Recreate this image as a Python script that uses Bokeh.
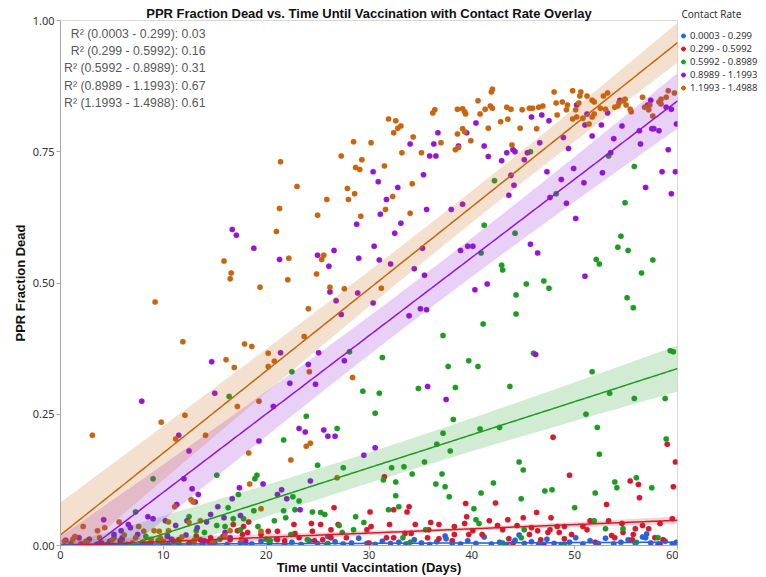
import numpy as np
from bokeh.plotting import figure
from bokeh.layouts import row
from bokeh.models import Range1d, FixedTicker, NumeralTickFormatter, Legend, LegendItem, Label
from bokeh.embed import file_html
from bokeh.resources import INLINE

# ---------------- data ----------------
group_names = ["0.0003 - 0.299", "0.299 - 0.5992", "0.5992 - 0.8989", "0.8989 - 1.1993", "1.1993 - 1.4988"]
r2_values = ["0.03", "0.16", "0.31", "0.67", "0.61"]
colors = ["#2b63d6", "#d31a2e", "#1f9b25", "#9216d6", "#c8650f"]

blue_x = [3.5, 6.0, 8.5, 10.5, 12.5, 13.8, 15.0, 16.2, 17.5, 18.6, 19.5, 20.3, 21.0, 21.8, 22.5, 23.4, 24.2, 25.0, 25.9,
          26.0, 26.7, 27.5, 28.3, 29.0, 29.8, 30.6, 31.3, 32.1, 32.9, 33.6, 34.4, 35.1, 35.9, 36.6, 37.4, 37.5, 38.1,
          38.9, 39.6, 40.4, 41.2, 41.9, 42.7, 43.4, 44.2, 44.6, 45.1, 45.8, 46.5, 47.3, 48.0, 48.7, 49.5, 50.1, 50.8,
          51.5, 52.3, 53.0, 53.8, 54.5, 55.2, 55.9, 56.6, 56.9, 57.0, 57.4, 58.1, 58.8, 59.5, 59.9]
blue_y = [0.002, 0.001, 0.003, 0.002, 0.004, 0.003, 0.006, 0.002, 0.005, 0.003, 0.008, 0.004, 0.012, 0.003, 0.006, 0.002,
          0.009, 0.004, 0.002, 0.017, 0.007, 0.003, 0.005, 0.014, 0.004, 0.002, 0.008, 0.004, 0.006, 0.003, 0.011, 0.005,
          0.002, 0.007, 0.018, 0.013, 0.004, 0.003, 0.009, 0.004, 0.016, 0.003, 0.006, 0.002, 0.010, 0.020, 0.004, 0.007,
          0.003, 0.012, 0.004, 0.002, 0.006, 0.015, 0.003, 0.009, 0.004, 0.014, 0.003, 0.006, 0.011, 0.004, 0.016, 0.015,
          0.022, 0.005, 0.002, 0.008, 0.003, 0.006]

red_x = [31.5, 26.6, 30.1, 32.4, 33.9, 33.7, 24.4, 26.3, 27.0, 32.0, 30.2, 29.8, 34.5, 36.0, 36.8, 38.3, 39.4, 39.5, 39.3,
         38.3, 35.8, 34.1, 33.5, 32.4, 31.7, 22.8, 20.2, 21.1, 21.8, 23.2, 24.7, 25.5, 26.3, 27.8, 36.8, 35.7, 38.1, 39.7,
         17.2, 17.8, 17.7, 18.2, 19.5, 14.6, 13.6, 15.8, 16.5, 11.5, 9.7, 5.8,
         18.3, 16.8, 21.1, 22.7, 24.5, 25.3,
         47.9, 49.5, 53.1, 55.4, 56.2, 56.3, 59.0, 59.8, 59.6, 42.3, 46.3, 47.7, 45.0, 43.5, 41.7, 42.5, 43.0, 44.4, 45.8,
         46.4, 47.6, 48.3, 49.0, 48.5, 47.4, 45.6, 41.0, 40.1, 50.8, 51.2, 51.5, 53.3, 49.7, 49.0, 53.6, 53.9, 54.7, 54.6,
         55.7, 55.9, 56.6, 57.2, 58.3, 59.5, 57.8, 58.6, 55.6, 46.7, 43.6,
         2.0, 4.0, 6.5, 8.0, 10.0, 11.0, 12.5, 13.2, 14.5, 30.0, 44.0, 52.0]
red_y = [0.131, 0.072, 0.064, 0.068, 0.074, 0.064, 0.042, 0.030, 0.040, 0.040, 0.036, 0.030, 0.040, 0.044, 0.040, 0.036,
         0.080, 0.055, 0.042, 0.021, 0.030, 0.023, 0.023, 0.015, 0.015, 0.023, 0.027, 0.011, 0.009, 0.015, 0.009, 0.011,
         0.015, 0.015, 0.013, 0.015, 0.009, 0.021,
         0.028, 0.036, 0.021, 0.025, 0.021, 0.015, 0.011, 0.017, 0.011, 0.011, 0.009, 0.009,
         0.045, 0.040, 0.027, 0.040, 0.027, 0.040,
         0.206, 0.134, 0.078, 0.123, 0.116, 0.091, 0.193, 0.159, 0.112, 0.081, 0.063, 0.053, 0.053, 0.049, 0.047, 0.038,
         0.030, 0.038, 0.034, 0.028, 0.030, 0.036, 0.036, 0.025, 0.025, 0.021, 0.021, 0.028, 0.036, 0.030, 0.047, 0.047,
         0.021, 0.013, 0.019, 0.015, 0.025, 0.042, 0.021, 0.032, 0.038, 0.032, 0.042, 0.051, 0.015, 0.011, 0.011, 0.011,
         0.013,
         0.003, 0.005, 0.002, 0.006, 0.004, 0.008, 0.003, 0.018, 0.006, 0.005, 0.004, 0.006]

green_x = [45.7, 42.2, 48.2, 53.3, 55.8, 54.9, 44.2, 41.2, 40.9, 42.9, 43.0, 45.3, 47.0, 47.5, 44.3, 44.3, 41.1, 52.1, 52.4,
           54.5, 54.2, 55.2, 57.6, 56.5, 55.1, 55.7, 37.2,
           40.6, 43.7, 46.0, 51.7, 53.4, 55.8, 58.8, 59.3, 59.6, 51.1, 40.8, 42.7, 52.2, 58.9, 52.4, 44.6, 45.0, 42.1,
           40.9, 44.8, 47.1, 47.8, 53.9, 54.1, 56.0, 57.5, 52.0, 50.0, 40.2, 40.4, 40.7, 45.1, 44.8, 51.9, 53.0, 54.7, 58.1,
           28.1, 31.3, 39.7, 37.7, 22.5, 29.4, 31.0, 34.8, 38.4, 23.9, 30.6, 38.2, 26.9, 21.7, 37.2, 36.6, 37.9, 25.0,
           27.5, 32.2, 33.4, 35.4, 34.2, 31.4, 32.6, 37.1, 36.5, 37.4, 37.8, 32.6, 22.6, 23.2, 21.7, 22.8, 24.5, 25.3,
           25.7, 21.9, 20.8, 28.7, 29.5, 31.9, 32.9, 27.1, 28.5, 27.4, 22.4, 24.0, 20.4, 33.3, 35.5,
           16.4, 9.0, 15.2, 19.1, 18.9, 17.3, 18.8, 16.3, 16.8, 17.8, 12.5, 7.3, 15.2, 16.0, 13.2, 14.0, 10.4, 8.3, 17.5,
           19.2, 5.2,
           1.0, 2.5, 4.5, 6.0, 8.0, 9.5, 11.5, 13.0, 15.5, 18.0, 20.0, 26.0, 34.0, 43.0, 49.0, 56.0]
green_y = [0.750, 0.695, 0.670, 0.742, 0.722, 0.653, 0.595, 0.610, 0.557, 0.534, 0.525, 0.498, 0.504, 0.490, 0.477, 0.441,
           0.422, 0.545, 0.536, 0.589, 0.568, 0.562, 0.544, 0.519, 0.472, 0.453, 0.400,
           0.341, 0.303, 0.366, 0.331, 0.290, 0.280, 0.280, 0.371, 0.369, 0.250, 0.222, 0.225, 0.225, 0.203, 0.174, 0.159,
           0.144, 0.119, 0.100, 0.089, 0.104, 0.106, 0.121, 0.110, 0.129, 0.110, 0.100, 0.072, 0.070, 0.049, 0.042, 0.030,
           0.015, 0.047, 0.032, 0.032, 0.015,
           0.369, 0.358, 0.352, 0.341, 0.331, 0.294, 0.290, 0.299, 0.301, 0.246, 0.252, 0.240, 0.223, 0.201, 0.214, 0.193,
           0.180, 0.153, 0.148, 0.148, 0.150, 0.159, 0.136, 0.125, 0.121, 0.136, 0.117, 0.112, 0.093, 0.095, 0.093, 0.085,
           0.066, 0.068, 0.064, 0.063, 0.059, 0.053, 0.047, 0.055, 0.044, 0.068, 0.074, 0.038, 0.030, 0.025, 0.021, 0.011,
           0.009, 0.015, 0.030,
           0.284, 0.127, 0.134, 0.134, 0.127, 0.097, 0.066, 0.072, 0.051, 0.051, 0.055, 0.064, 0.038, 0.036, 0.028, 0.025,
           0.019, 0.017, 0.030, 0.036, 0.015,
           0.004, 0.008, 0.002, 0.011, 0.005, 0.009, 0.004, 0.007, 0.012, 0.005, 0.012, 0.004, 0.006, 0.005, 0.003, 0.006]

purple_x = [16.7, 17.1, 18.8, 21.3, 25.0, 26.6, 26.1, 26.2, 26.8, 28.8, 29.0,
            36.7, 34.0, 36.3, 35.9, 36.5, 38.7, 39.5, 40.4, 35.3, 32.8, 31.7, 31.1, 33.1, 32.5, 35.6, 38.0, 39.1, 30.5,
            31.0, 32.1, 35.2, 34.4, 35.4, 38.9, 39.6, 40.1, 40.3, 30.4, 35.0, 35.6, 33.9, 30.4, 30.9, 27.3, 28.9,
            45.8, 46.8, 47.5, 41.2, 41.6, 42.9, 43.4, 44.0, 44.2, 45.4, 45.1, 46.6, 43.8, 44.1, 43.6, 47.3, 48.9, 49.4,
            50.2, 51.2, 51.0, 51.7, 52.6, 53.2, 54.4, 53.8, 54.6, 53.5, 56.3, 56.4, 57.4, 57.1, 57.5, 57.7, 58.2, 58.9,
            59.4, 59.9, 59.1, 58.5, 59.8, 59.4, 56.9, 52.7, 50.9, 49.9, 48.7, 49.2, 47.6, 50.1, 45.7, 46.4, 41.5, 51.0,
            14.7, 7.9, 15.0, 11.5, 12.5, 19.3, 12.0, 12.8, 13.4, 13.1, 11.3, 19.7, 17.4, 16.7, 15.3, 14.6, 8.5, 9.0, 10.2,
            4.2, 6.6, 6.8, 5.9, 12.3, 11.2, 13.3, 14.2, 15.9, 17.5, 1.8, 5.2, 7.5, 10.4, 16.0,
            21.4, 25.1, 24.1, 22.3, 24.8, 27.6, 20.7, 23.2, 23.8, 25.6, 26.0, 26.7, 30.6, 29.5, 35.7, 37.5, 24.3, 21.5,
            21.1, 22.0, 23.3, 46.2,
            0.5, 2.8, 4.8, 6.0, 8.8, 10.8, 12.2, 14.0, 16.5, 18.0, 47.0, 58.3]
purple_y = [0.602, 0.591, 0.566, 0.545, 0.553, 0.562, 0.532, 0.483, 0.466, 0.612, 0.547,
            0.786, 0.765, 0.765, 0.742, 0.742, 0.761, 0.786, 0.805, 0.706, 0.682, 0.659, 0.631, 0.614, 0.595, 0.640,
            0.640, 0.650, 0.570, 0.544, 0.536, 0.566, 0.527, 0.515, 0.562, 0.570, 0.570, 0.487, 0.462, 0.451, 0.449,
            0.4375, 0.712, 0.693, 0.440, 0.481,
            0.816, 0.820, 0.809, 0.761, 0.741, 0.733, 0.748, 0.754, 0.750, 0.748, 0.735, 0.767, 0.705, 0.686, 0.667,
            0.712, 0.777, 0.756, 0.839, 0.822, 0.801, 0.780, 0.801, 0.824, 0.848, 0.775, 0.799, 0.748, 0.790, 0.765,
            0.848, 0.839, 0.794, 0.794, 0.790, 0.835, 0.831, 0.803, 0.754, 0.712, 0.712, 0.670, 0.682, 0.710, 0.691,
            0.718, 0.697, 0.652, 0.663, 0.623, 0.574, 0.557, 0.498, 0.513,
            0.350, 0.275, 0.290, 0.210, 0.180, 0.199, 0.127, 0.108, 0.097, 0.083, 0.078, 0.117, 0.110, 0.089, 0.074,
            0.059, 0.055, 0.051, 0.047, 0.049, 0.040, 0.034, 0.028, 0.047, 0.038, 0.034, 0.045, 0.053, 0.057, 0.015,
            0.021, 0.021, 0.017, 0.025,
            0.367, 0.367, 0.345, 0.309, 0.307, 0.352, 0.265, 0.223, 0.216, 0.220, 0.208, 0.208, 0.186, 0.172, 0.303,
            0.278, 0.123, 0.106, 0.097, 0.089, 0.068, 0.364,
            0.010, 0.012, 0.008, 0.015, 0.006, 0.012, 0.020, 0.009, 0.015, 0.008, 0.002, 0.003]

orange_x = [28.5, 27.3, 21.4, 28.7, 23.0, 27.9, 28.6, 25.9, 28.0, 21.3, 25.0, 21.0, 15.9, 22.2, 25.6, 25.4, 16.6, 16.5,
            24.9, 22.1, 19.4, 26.2, 27.6, 9.2,
            31.9, 32.6, 33.1, 32.8, 32.4, 34.3, 36.2, 36.4, 38.6, 39.1, 39.3, 39.4, 39.1, 39.3, 38.6, 39.9, 37.0, 38.7,
            38.4, 33.2, 35.1, 31.5, 29.3, 34.2, 32.3, 31.6, 34.0, 29.2, 31.2, 24.1, 23.7, 30.2, 29.1,
            42.0, 41.9, 40.6, 41.8, 42.0, 41.3, 40.8, 41.6, 43.5, 43.4, 43.8, 42.8, 44.7, 44.9, 45.6, 45.9, 46.5, 46.9,
            46.3, 43.9, 48.0, 48.2, 48.3, 48.8, 49.3, 49.2, 49.8, 50.6, 50.5, 50.4, 50.1, 49.8, 50.2, 50.8, 51.2, 51.7,
            51.9, 51.9, 51.7, 51.4, 52.5, 52.8, 53.2, 53.0, 53.9, 54.2, 54.3, 54.7, 54.9, 55.0, 55.4, 55.5, 56.6, 56.8,
            57.2, 57.3, 57.6, 58.2, 58.4, 58.4, 58.9, 59.1, 59.7,
            11.9, 17.9, 18.6, 16.1, 16.9, 20.2, 20.2, 3.1, 9.8, 12.1, 11.2, 14.1, 17.2, 19.3, 18.3, 18.4, 19.5, 12.7,
            11.1, 2.2, 3.6, 5.7, 4.3, 7.6, 9.6, 10.5, 12.5, 10.5, 1.4, 8.1, 7.3, 9.7, 13.6, 19.5, 12.9, 9.1, 16.5,
            20.8, 24.2, 28.4, 23.9, 24.3, 22.4, 26.9,
            0.4, 1.2, 2.6, 3.8, 5.0, 6.2, 7.0, 8.8, 10.0, 11.8, 13.0, 14.8, 16.0, 17.6]
orange_y = [0.769, 0.742, 0.731, 0.720, 0.684, 0.680, 0.670, 0.659, 0.659, 0.642, 0.629, 0.598, 0.542, 0.547, 0.553,
            0.545, 0.519, 0.508, 0.517, 0.506, 0.492, 0.492, 0.489, 0.464,
            0.8125, 0.809, 0.799, 0.795, 0.786, 0.778, 0.824, 0.830, 0.831, 0.832, 0.826, 0.822, 0.794, 0.788, 0.784,
            0.771, 0.767, 0.758, 0.754, 0.748, 0.748, 0.723, 0.735, 0.689, 0.665, 0.640, 0.633, 0.627, 0.490, 0.451,
            0.398, 0.767, 0.716,
            0.869, 0.864, 0.847, 0.837, 0.833, 0.831, 0.822, 0.795, 0.812, 0.835, 0.831, 0.807, 0.795, 0.830, 0.833,
            0.833, 0.835, 0.837, 0.794, 0.763, 0.864, 0.843, 0.820, 0.845, 0.839, 0.830, 0.866, 0.864, 0.856, 0.843,
            0.830, 0.8125, 0.816, 0.814, 0.856, 0.848, 0.845, 0.822, 0.816, 0.803, 0.833, 0.856, 0.862, 0.831, 0.835,
            0.837, 0.843, 0.847, 0.850, 0.839, 0.831, 0.826, 0.854, 0.835, 0.830, 0.839, 0.818, 0.845, 0.850, 0.841,
            0.854, 0.866, 0.862,
            0.388, 0.384, 0.379, 0.354, 0.339, 0.366, 0.341, 0.210, 0.235, 0.248, 0.203, 0.210, 0.265, 0.275, 0.176,
            0.117, 0.070, 0.087, 0.074, 0.036, 0.028, 0.045, 0.034, 0.036, 0.027, 0.045, 0.044, 0.028, 0.017, 0.027,
            0.015, 0.015, 0.047, 0.027, 0.083, 0.028, 0.028,
            0.351, 0.331, 0.320, 0.189, 0.195, 0.163, 0.129,
            0.008, 0.012, 0.006, 0.015, 0.010, 0.020, 0.005, 0.012, 0.008, 0.016, 0.010, 0.006, 0.018, 0.012]

# linear fits per group and confidence-band shape
fit_intercept = [0.002, -0.0006, -0.041, -0.0477, 0.020]
fit_slope = [0.00007, 0.00081, 0.0063, 0.01491, 0.01563]
band_center_x = [35.0, 38.0, 28.0, 35.0, 42.0]
band_min_half = [0.0015, 0.0035, 0.029, 0.036, 0.030]
band_growth = [0.00003, 0.00028, 0.00103, 0.00155, 0.0013]

xs_all = [blue_x, red_x, green_x, purple_x, orange_x]
ys_all = [blue_y, red_y, green_y, purple_y, orange_y]

title = "PPR Fraction Dead vs. Time Until Vaccination with Contact Rate Overlay"
x_label = "Time until Vaccintation (Days)"
y_label = "PPR Fraction Dead"
legend_title = "Contact Rate"
x_ticks = [0, 10, 20, 30, 40, 50, 60]
y_ticks = [0.0, 0.25, 0.5, 0.75, 1.0]

# ---------------- main figure ----------------
TOTAL_H = 577
p = figure(width=678, height=TOTAL_H, output_backend="svg", toolbar_location=None,
           x_range=Range1d(0, 60), y_range=Range1d(0, 1.0),
           min_border_left=60, min_border_right=1, min_border_top=20, min_border_bottom=29,
           title=title)
p.title.text_font = "Liberation Sans"
p.title.text_font_size = "13px"
p.title.text_font_style = "bold"
p.title.align = "center"
p.title.standoff = 0
p.title.text_color = "#111111"

p.grid.visible = False
p.outline_line_color = "#d9d9d9"
p.background_fill_color = "white"

for ax in (p.xaxis, p.yaxis):
    ax.axis_line_color = "#a8a8a8"
    ax.major_tick_line_color = "#a8a8a8"
    ax.minor_tick_line_color = None
    ax.major_tick_in = 0
    ax.major_tick_out = 4
    ax.major_label_standoff = 2
    ax.major_label_text_font = "Noto Sans"
    ax.major_label_text_font_size = "11px"
    ax.major_label_text_color = "#333333"
    ax.axis_label_text_font = "Liberation Sans"
    ax.axis_label_text_font_size = "13px"
    ax.axis_label_text_font_style = "bold"
    ax.axis_label_text_color = "#111111"
    ax.axis_label_standoff = 2

p.xaxis.axis_label = x_label
p.yaxis.axis_label = y_label
p.xaxis.ticker = FixedTicker(ticks=x_ticks)
p.yaxis.ticker = FixedTicker(ticks=y_ticks)
p.yaxis.formatter = NumeralTickFormatter(format="0.00")
p.xaxis.major_label_standoff = 1
p.xaxis.axis_label_standoff = -2

for xs, ys, c in zip(xs_all, ys_all, colors):
    p.scatter(xs, ys, size=5.5, fill_color=c, line_color=c, line_alpha=0.5, line_width=0.5)

grid_x = np.linspace(0, 60, 241)
for i, c in enumerate(colors):
    yfit = fit_intercept[i] + fit_slope[i] * grid_x
    half = np.sqrt(band_min_half[i] ** 2 + (band_growth[i] * (grid_x - band_center_x[i])) ** 2)
    p.varea(x=grid_x, y1=yfit - half, y2=yfit + half, fill_color=c, fill_alpha=0.2)
for i, c in enumerate(colors):
    yfit = fit_intercept[i] + fit_slope[i] * grid_x
    p.line(grid_x, yfit, line_color=c, line_width=1.5)

# R-squared annotation block
for i, (g, r2) in enumerate(zip(group_names, r2_values)):
    lab = Label(x=14.1, y=0.975 - i * 0.0331, text=f"R\u00b2 ({g}): {r2}",
                text_align="right", text_baseline="middle",
                text_font="Liberation Sans", text_font_size="12.3px", text_color="#595959")
    p.add_layout(lab)

# ---------------- legend panel (separate narrow figure on the right) ----------------
LEG_W = 88
pl = figure(width=LEG_W, height=TOTAL_H, output_backend="svg", toolbar_location=None,
            x_range=Range1d(0, 1), y_range=Range1d(0, 1), min_border=0,
            x_axis_location=None, y_axis_location=None, outline_line_color=None,
            title=legend_title)
# the legend heading is this small figure's own title, so it sits above the frame
pl.title.text_font = "Noto Sans"
pl.title.text_font_size = "10px"
pl.title.text_font_style = "normal"
pl.title.text_color = "#333333"
pl.title.align = "left"
pl.title.offset = 3
pl.title.standoff = 0
pl.grid.visible = False
# swatch renderers sit outside the visible range; they only feed the legend glyphs
swatches = [pl.scatter(x=[-1], y=[-1], size=6, fill_color=c, line_color=c) for c in colors]

LEG_OFFSET_Y = 451  # legend's bottom edge, in pixels above the (aligned) frame bottom
legend = Legend(items=[LegendItem(label=g, renderers=[r]) for g, r in zip(group_names, swatches)],
                location=(0, LEG_OFFSET_Y))
legend.label_text_font = "Noto Sans"
legend.label_text_font_size = "9.5px"
legend.label_text_color = "#333333"
legend.label_height = 13
legend.label_standoff = 2
legend.glyph_width = 10
legend.glyph_height = 13
legend.spacing = 0
legend.padding = 3
legend.margin = 0
legend.border_line_color = None
legend.background_fill_alpha = 0
pl.add_layout(legend)

layout = row(p, pl)
open("out.html", "w").write(file_html(layout, INLINE))
